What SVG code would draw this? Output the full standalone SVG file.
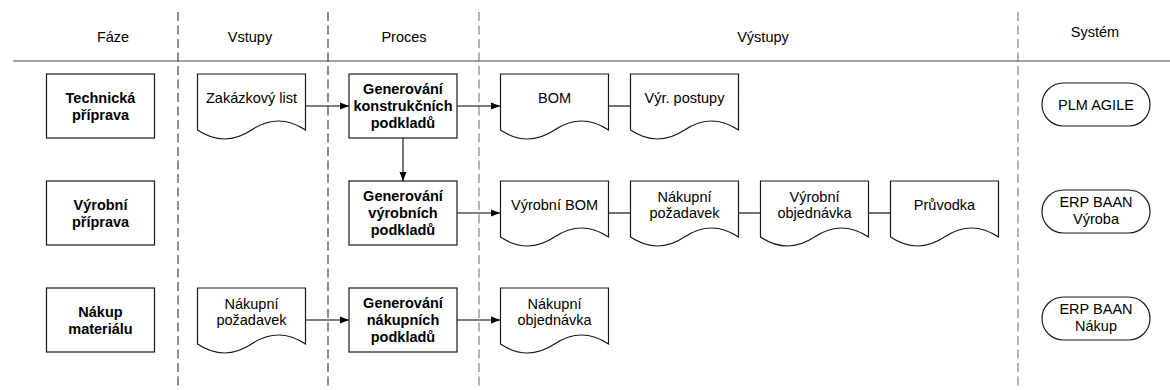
<svg xmlns="http://www.w3.org/2000/svg" xmlns:xlink="http://www.w3.org/1999/xlink" width="1170" height="390" viewBox="0 0 1170 390">
  <style>
    text { font-family: "Liberation Sans", Arial, sans-serif; font-size: 14.5px; fill: #000; text-anchor: middle; }
    .b { font-weight: bold; }
    .box { fill: #fff; stroke: #1a1a1a; stroke-width: 1.2; }
    .lane { fill: none; stroke-width: 1.1; stroke-dasharray: 9 4.5; }
    .dark { stroke: #333; }
    .grey { stroke: #777; }
    .conn { fill: none; stroke: #000; stroke-width: 1.1; }
  </style>
  <defs>
    <marker id="arr" markerWidth="10" markerHeight="8" refX="9" refY="4" orient="auto" markerUnits="userSpaceOnUse">
      <path d="M0,0.5 L9,4 L0,7.5 Z" fill="#000"/>
    </marker>
    <!-- document shape: flat top, wavy bottom -->
    <path id="doc" class="box" d="M0,56 V0 H108 V56 Q81,38 54,56 T0,56 Z"/>
  </defs>

  <rect width="1170" height="390" fill="#fff"/>

  <!-- lanes and header -->
  <g id="lanes">
    <line x1="13" y1="61" x2="1170" y2="61" stroke="#444" stroke-width="1.2"/>
    <line class="lane dark" x1="178" y1="12" x2="178" y2="390"/>
    <line class="lane dark" x1="328" y1="12" x2="328" y2="390"/>
    <line class="lane grey" x1="479" y1="12" x2="479" y2="390"/>
    <line class="lane grey" x1="1018" y1="12" x2="1018" y2="390"/>
    <text x="113" y="42">Fáze</text>
    <text x="250" y="42">Vstupy</text>
    <text x="404" y="42">Proces</text>
    <text x="763" y="42">Výstupy</text>
    <text x="1095" y="37">Systém</text>
  </g>

  <!-- connectors -->
  <g id="connectors">
    <line class="conn" x1="306" y1="106" x2="349" y2="106" marker-end="url(#arr)"/>
    <line class="conn" x1="457" y1="106" x2="500" y2="106" marker-end="url(#arr)"/>
    <line class="conn" x1="608" y1="106" x2="630" y2="106"/>
    <line class="conn" x1="403" y1="138" x2="403" y2="181" marker-end="url(#arr)"/>
    <line class="conn" x1="457" y1="213" x2="500" y2="213" marker-end="url(#arr)"/>
    <line class="conn" x1="608" y1="213" x2="630" y2="213"/>
    <line class="conn" x1="738" y1="213" x2="760" y2="213"/>
    <line class="conn" x1="868" y1="213" x2="890" y2="213"/>
    <line class="conn" x1="306" y1="320" x2="349" y2="320" marker-end="url(#arr)"/>
    <line class="conn" x1="457" y1="320" x2="500" y2="320" marker-end="url(#arr)"/>
  </g>

  <!-- phase 1: technical preparation -->
  <g id="faze-technicka">
    <rect class="box" x="46.5" y="74" width="108" height="64"/>
    <text class="b" x="100.5" y="102.5">Technická</text>
    <text class="b" x="100.5" y="119.5">příprava</text>
  </g>
  <g id="vstup-zakazkovy-list">
    <use xlink:href="#doc" x="197.5" y="74"/>
    <text x="251.5" y="103">Zakázkový list</text>
  </g>
  <g id="proces-konstrukcni">
    <rect class="box" x="349" y="74" width="108" height="64"/>
    <text class="b" x="403" y="94">Generování</text>
    <text class="b" x="403" y="111">konstrukčních</text>
    <text class="b" x="403" y="128">podkladů</text>
  </g>
  <g id="vystup-bom">
    <use xlink:href="#doc" x="500.5" y="74"/>
    <text x="554.5" y="103">BOM</text>
  </g>
  <g id="vystup-vyr-postupy">
    <use xlink:href="#doc" x="630.5" y="74"/>
    <text x="684.5" y="103">Výr. postupy</text>
  </g>
  <g id="system-plm">
    <rect class="box" x="1042" y="83" width="108" height="43" rx="21.5"/>
    <text x="1096" y="110">PLM AGILE</text>
  </g>

  <!-- phase 2: production preparation -->
  <g id="faze-vyrobni">
    <rect class="box" x="46.5" y="181" width="108" height="64"/>
    <text class="b" x="100.5" y="209.5">Výrobní</text>
    <text class="b" x="100.5" y="226.5">příprava</text>
  </g>
  <g id="proces-vyrobni">
    <rect class="box" x="349" y="181" width="108" height="64"/>
    <text class="b" x="403" y="201">Generování</text>
    <text class="b" x="403" y="218">výrobních</text>
    <text class="b" x="403" y="235">podkladů</text>
  </g>
  <g id="vystup-vyrobni-bom">
    <use xlink:href="#doc" x="500.5" y="181"/>
    <text x="554.5" y="210">Výrobní BOM</text>
  </g>
  <g id="vystup-nakupni-pozadavek">
    <use xlink:href="#doc" x="630.5" y="181"/>
    <text x="684.5" y="201.5">Nákupní</text>
    <text x="684.5" y="218">požadavek</text>
  </g>
  <g id="vystup-vyrobni-objednavka">
    <use xlink:href="#doc" x="760.5" y="181"/>
    <text x="814.5" y="201.5">Výrobní</text>
    <text x="814.5" y="218">objednávka</text>
  </g>
  <g id="vystup-pruvodka">
    <use xlink:href="#doc" x="890.5" y="181"/>
    <text x="944.5" y="210">Průvodka</text>
  </g>
  <g id="system-erp-vyroba">
    <rect class="box" x="1042" y="190" width="108" height="43" rx="21.5"/>
    <text x="1096" y="207">ERP BAAN</text>
    <text x="1096" y="224">Výroba</text>
  </g>

  <!-- phase 3: material purchasing -->
  <g id="faze-nakup">
    <rect class="box" x="46.5" y="288" width="108" height="64"/>
    <text class="b" x="100.5" y="316.5">Nákup</text>
    <text class="b" x="100.5" y="333.5">materiálu</text>
  </g>
  <g id="vstup-nakupni-pozadavek">
    <use xlink:href="#doc" x="197.5" y="288"/>
    <text x="251.5" y="308.5">Nákupní</text>
    <text x="251.5" y="325">požadavek</text>
  </g>
  <g id="proces-nakupni">
    <rect class="box" x="349" y="288" width="108" height="64"/>
    <text class="b" x="403" y="308">Generování</text>
    <text class="b" x="403" y="325">nákupních</text>
    <text class="b" x="403" y="342">podkladů</text>
  </g>
  <g id="vystup-nakupni-objednavka">
    <use xlink:href="#doc" x="500.5" y="288"/>
    <text x="554.5" y="308.5">Nákupní</text>
    <text x="554.5" y="325">objednávka</text>
  </g>
  <g id="system-erp-nakup">
    <rect class="box" x="1042" y="297" width="108" height="43" rx="21.5"/>
    <text x="1096" y="314">ERP BAAN</text>
    <text x="1096" y="331">Nákup</text>
  </g>
</svg>
